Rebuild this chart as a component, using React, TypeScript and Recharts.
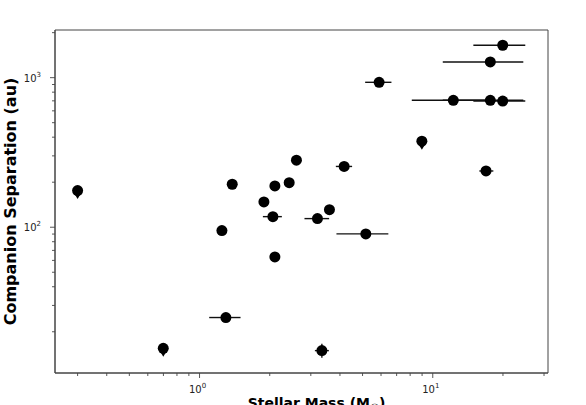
import { ScatterChart, Scatter, XAxis, YAxis, ErrorBar, Label, ReferenceArea } from "recharts";

const mass = [0.3, 0.699, 1.247, 1.381, 1.297, 1.888, 2.104, 2.063, 2.104, 2.423, 2.603, 3.203, 3.606, 3.346, 4.169, 5.164, 5.888, 8.98, 12.25, 17.65, 19.95, 16.92, 17.65, 19.95];
const separation = [175.7, 15.5, 94.9, 193.8, 24.9, 147.6, 188.9, 117.7, 63.3, 198.7, 280.7, 114.2, 131.1, 14.96, 254.9, 90.2, 931, 376, 706, 706, 698, 237.7, 1274, 1647];
const massLow = [null, null, null, null, 1.1, null, null, 1.869, null, null, null, 2.818, null, 3.123, 3.841, 3.864, 5.13, null, 8.13, 11.04, 14.93, 15.84, 11.04, 14.93];
const massHigh = [null, null, null, null, 1.499, null, null, 2.254, null, null, null, 3.595, null, 3.585, 4.51, 6.45, 6.65, null, 18.3, 24.45, 24.93, 18.19, 24.45, 24.93];
const sepLow = [null, null, null, null, null, null, null, null, null, null, null, null, null, 13.43, null, null, null, null, null, null, null, null, null, null];
const sepHigh = [null, null, null, null, null, null, null, null, null, null, null, null, null, 16.66, null, null, null, null, null, null, null, null, null, null];
const upperLimit = [true, true, false, false, false, false, false, false, false, false, false, false, false, false, false, false, false, true, false, false, false, false, false, false];

const xTicks = [0.3, 0.4, 0.5, 0.6, 0.7, 0.8, 0.9, 1, 2, 3, 4, 5, 6, 7, 8, 9, 10, 20, 30];
const yTicks = [20, 30, 40, 50, 60, 70, 80, 90, 100, 200, 300, 400, 500, 600, 700, 800, 900, 1000, 2000];
const majorExp: Record<number, string> = { 1: "0", 10: "1", 100: "2", 1000: "3" };
const xDomain = [0.24, 31.2];
const yDomain = [10.6, 2083];

const data = mass.map((m, i) => ({
  mass: m,
  sep: separation[i],
  massErr: massLow[i] == null ? null : [m - (massLow[i] as number), (massHigh[i] as number) - m],
  sepErr: sepLow[i] == null ? null : [separation[i] - (sepLow[i] as number), (sepHigh[i] as number) - separation[i]],
  limit: upperLimit[i],
}));

const FONT = "DejaVu Sans, sans-serif";
const AXIS = "#444";

const XTick = (props: any) => {
  const { x, y, payload } = props;
  const exp = majorExp[payload.value];
  return (
    <g>
      <line x1={x} x2={x} y1={y} y2={y + (exp ? 5 : 3)} stroke={AXIS} strokeWidth={0.9} />
      {exp && (
        <text x={x - 2} y={y + 20} textAnchor="middle" fontFamily={FONT} fontSize={10} fill="#222">
          10<tspan dy={-5} fontSize={7}>{exp}</tspan>
        </text>
      )}
    </g>
  );
};

const YTick = (props: any) => {
  const { x, y, payload } = props;
  const exp = majorExp[payload.value];
  return (
    <g>
      <line x1={x - (exp ? 5 : 3)} x2={x} y1={y} y2={y} stroke={AXIS} strokeWidth={0.9} />
      {exp && (
        <text x={x - 14} y={y + 4} textAnchor="end" fontFamily={FONT} fontSize={10} fill="#222">
          10<tspan dy={-5} fontSize={7}>{exp}</tspan>
        </text>
      )}
    </g>
  );
};

const Marker = (props: any) => {
  const { cx, cy, payload } = props;
  return (
    <g>
      {payload.limit && <path d={`M${cx - 4.5},${cy + 1} L${cx + 4.5},${cy + 1} L${cx},${cy + 8.5} Z`} fill="#000" />}
      <circle cx={cx} cy={cy} r={5.5} fill="#000" />
    </g>
  );
};

// x label sits a little right of the axes centre in the reference
const XLabel = (props: any) => {
  const vb = props.viewBox;
  return (
    <text x={vb.x + vb.width / 2 + 15} y={vb.y + 35} textAnchor="middle" fontFamily={FONT} fontWeight="bold" fontSize={14} fill="#000">
      Stellar Mass (M<tspan dy={3} fontSize={10}>☉</tspan><tspan dy={-3}>)</tspan>
    </text>
  );
};

const YLabel = (props: any) => {
  const vb = props.viewBox;
  const cy = vb.y + vb.height / 2;
  return (
    <text x={16} y={cy} transform={`rotate(-90, 16, ${cy})`} textAnchor="middle" fontFamily={FONT} fontWeight="bold" fontSize={16} fill="#000">
      Companion Separation (au)
    </text>
  );
};

export default function App() {
  return (
    <div style={{ position: "absolute", left: 0, top: 0, background: "#fff" }}>
      <ScatterChart width={586} height={405} margin={{ top: 30, right: 38, bottom: 0, left: 0 }}>
        <XAxis
          dataKey="mass"
          type="number"
          scale="log"
          domain={xDomain}
          allowDataOverflow
          ticks={xTicks}
          interval={0}
          tick={<XTick />}
          tickSize={0}
          tickMargin={0}
          tickLine={false}
          axisLine={{ stroke: AXIS, strokeWidth: 1 }}
          height={32}
        >
          <Label content={<XLabel />} />
        </XAxis>
        <YAxis
          dataKey="sep"
          type="number"
          scale="log"
          domain={yDomain}
          allowDataOverflow
          ticks={yTicks}
          interval={0}
          tick={<YTick />}
          tickSize={0}
          tickMargin={0}
          tickLine={false}
          axisLine={{ stroke: AXIS, strokeWidth: 1 }}
          width={55}
        >
          <Label content={<YLabel />} />
        </YAxis>
        <ReferenceArea x1={xDomain[0]} x2={xDomain[1]} y1={yDomain[0]} y2={yDomain[1]} fill="none" fillOpacity={0} stroke={AXIS} strokeWidth={1} ifOverflow="visible" />
        <Scatter data={data} shape={<Marker />} isAnimationActive={false}>
          <ErrorBar dataKey="massErr" direction="x" width={0} stroke="#111" strokeWidth={1.4} />
          <ErrorBar dataKey="sepErr" direction="y" width={0} stroke="#111" strokeWidth={1.4} />
        </Scatter>
      </ScatterChart>
    </div>
  );
}
